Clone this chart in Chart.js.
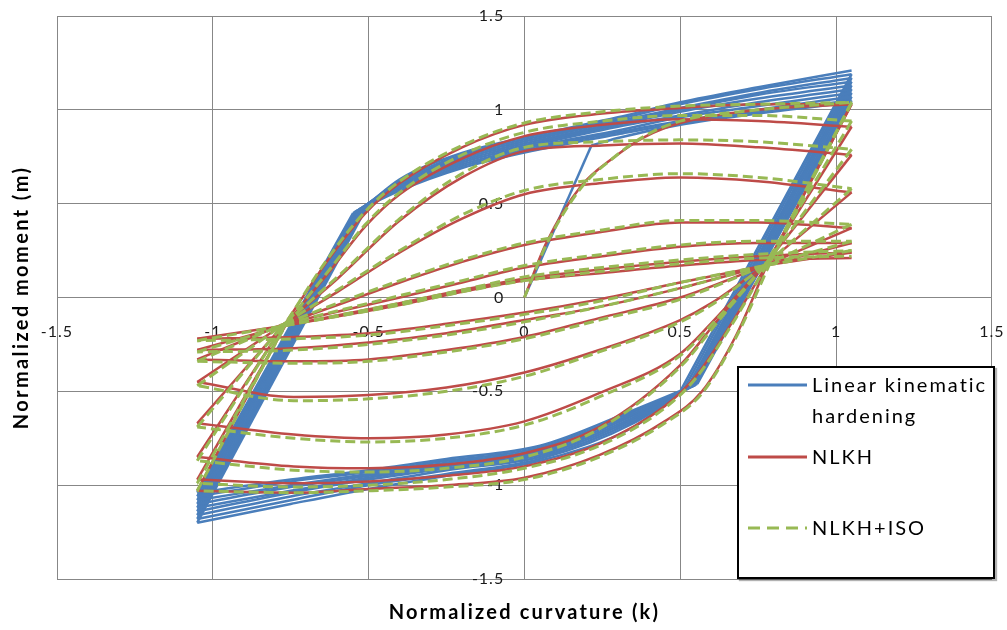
<!DOCTYPE html>
<html>
<head>
<meta charset="utf-8">
<script src="https://cdn.jsdelivr.net/npm/chart.js@4.4.1/dist/chart.umd.min.js"></script>
<style>
  html, body { margin: 0; padding: 0; background: #fff; }
  #wrap { position: relative; width: 1007px; height: 630px; }
  canvas { display: block; }
  #legend {
    position: absolute; left: 737px; top: 366px; width: 254px; height: 209px;
    border: 2px solid #000; background: #fff;
    box-shadow: 2px 2px 1px rgba(0,0,0,0.3);
    font-family: Lato, "Open Sans", "DejaVu Sans", sans-serif; font-size: 20px; color: #000;
  }
  #legend .sw { position: absolute; left: 9px; }
  #legend .lbl { position: absolute; left: 73px; line-height: 31px; white-space: nowrap; letter-spacing: 2px; }
</style>
</head>
<body>
<div id="wrap">
  <canvas id="chart" width="1007" height="630"></canvas>
  <div id="legend">
    <svg class="sw" style="top:14px" width="60" height="6"><line x1="0" y1="3" x2="59" y2="3" stroke="#4a7ebb" stroke-width="3"/></svg>
    <div class="lbl" style="top:1px">Linear kinematic</div>
    <div class="lbl" style="top:32px">hardening</div>
    <svg class="sw" style="top:86px" width="60" height="6"><line x1="0" y1="3" x2="59" y2="3" stroke="#be4b48" stroke-width="3"/></svg>
    <div class="lbl" style="top:73px">NLKH</div>
    <svg class="sw" style="top:157px" width="60" height="6"><line x1="0" y1="3" x2="59" y2="3" stroke="#98b954" stroke-width="3" stroke-dasharray="12 7"/></svg>
    <div class="lbl" style="top:144px">NLKH+ISO</div>
  </div>
</div>
<script>
// Axis ticks (normalized curvature k, normalized moment m)
const curvatureTicks = [-1.5, -1, -0.5, 0, 0.5, 1, 1.5];
const momentTicks = [-1.5, -1, -0.5, 0, 0.5, 1, 1.5];

// ---- Linear kinematic hardening: [k, m] points ----
// elastic start, then the first plastic branch
const blueElastic = [[0,0],[0.215,0.81]];
const blueInitial = [[0.215,0.81],[0.30,0.85],[0.50,0.92],[0.75,0.98],[1.05,1.04]];
// unloading branches (positive tip -> negative tip); first point is the knee
const blueFalling = [
  [[0.555,-0.46],[0.35,-0.60],[0.05,-0.79],[-0.25,-0.86],[-0.50,-0.92],[-0.75,-0.97],[-1.05,-1.04]],
  [[0.55,-0.465],[0.35,-0.61],[0.05,-0.80],[-0.25,-0.87],[-0.50,-0.93],[-0.75,-0.98],[-1.05,-1.06]],
  [[0.545,-0.47],[0.35,-0.62],[0.05,-0.81],[-0.25,-0.88],[-0.50,-0.94],[-0.75,-1.00],[-1.05,-1.08]],
  [[0.54,-0.47],[0.35,-0.63],[0.05,-0.82],[-0.25,-0.89],[-0.50,-0.95],[-0.75,-1.01],[-1.05,-1.10]],
  [[0.53,-0.48],[0.35,-0.64],[0.05,-0.83],[-0.25,-0.90],[-0.50,-0.96],[-0.75,-1.03],[-1.05,-1.12]],
  [[0.525,-0.485],[0.35,-0.65],[0.05,-0.84],[-0.25,-0.91],[-0.50,-0.97],[-0.75,-1.04],[-1.05,-1.14]],
  [[0.52,-0.49],[0.35,-0.66],[0.05,-0.85],[-0.25,-0.92],[-0.50,-0.99],[-0.75,-1.06],[-1.05,-1.16]],
  [[0.51,-0.495],[0.35,-0.67],[0.05,-0.86],[-0.25,-0.94],[-0.50,-1.00],[-0.75,-1.08],[-1.05,-1.18]],
  [[0.50,-0.50],[0.35,-0.69],[0.05,-0.87],[-0.25,-0.95],[-0.50,-1.02],[-0.75,-1.10],[-1.05,-1.20]]
];
// reloading branches (negative tip -> positive tip); first point is the knee
const blueRising = [
  [[-0.55,0.45],[-0.40,0.57],[-0.20,0.69],[0.05,0.79],[0.30,0.87],[0.50,0.93],[0.75,0.99],[1.05,1.05]],
  [[-0.545,0.455],[-0.40,0.58],[-0.20,0.70],[0.05,0.80],[0.30,0.88],[0.50,0.94],[0.75,1.00],[1.05,1.07]],
  [[-0.54,0.46],[-0.40,0.59],[-0.20,0.71],[0.05,0.81],[0.30,0.89],[0.50,0.96],[0.75,1.02],[1.05,1.09]],
  [[-0.535,0.465],[-0.40,0.59],[-0.20,0.72],[0.05,0.82],[0.30,0.91],[0.50,0.97],[0.75,1.04],[1.05,1.11]],
  [[-0.53,0.47],[-0.40,0.60],[-0.20,0.73],[0.05,0.83],[0.30,0.92],[0.50,0.99],[0.75,1.06],[1.05,1.13]],
  [[-0.52,0.48],[-0.40,0.61],[-0.20,0.74],[0.05,0.84],[0.30,0.93],[0.50,1.00],[0.75,1.08],[1.05,1.15]],
  [[-0.515,0.485],[-0.40,0.61],[-0.20,0.75],[0.05,0.85],[0.30,0.94],[0.50,1.01],[0.75,1.09],[1.05,1.17]],
  [[-0.51,0.49],[-0.40,0.62],[-0.20,0.76],[0.05,0.86],[0.30,0.95],[0.50,1.03],[0.75,1.11],[1.05,1.19]],
  [[-0.50,0.50],[-0.40,0.63],[-0.20,0.77],[0.05,0.87],[0.30,0.96],[0.50,1.04],[0.75,1.12],[1.05,1.21]]
];

// ---- NLKH ----
const nlkhInitial = [[0,0],[0.07,0.29],[0.18,0.59],[0.29,0.75],[0.385,0.855],[0.50,0.93],[0.75,1.00],[1.05,1.03]];
// first point of each branch is where the straight reversal line meets the curve
const nlkhFalling = [
  [[0.78,0.18],[0.68,-0.20],[0.57,-0.50],[0.45,-0.66],[0.24,-0.84],[0,-0.96],[-0.25,-1.00],[-0.50,-1.02],[-0.74,-1.04],[-1.05,-1.03]],
  [[0.78,0.18],[0.66,-0.15],[0.55,-0.42],[0.45,-0.58],[0.24,-0.78],[0,-0.90],[-0.25,-0.95],[-0.50,-0.98],[-0.74,-0.99],[-1.05,-0.97]],
  [[0.77,0.17],[0.62,-0.12],[0.50,-0.36],[0.24,-0.69],[0,-0.83],[-0.25,-0.89],[-0.50,-0.91],[-0.74,-0.90],[-1.05,-0.85]],
  [[0.77,0.17],[0.62,-0.10],[0.50,-0.30],[0.24,-0.51],[0,-0.66],[-0.25,-0.73],[-0.50,-0.75],[-0.74,-0.73],[-1.05,-0.67]],
  [[0.77,0.17],[0.60,-0.03],[0.50,-0.12],[0.24,-0.28],[0,-0.40],[-0.25,-0.48],[-0.50,-0.52],[-0.74,-0.53],[-1.05,-0.45]],
  [[0.77,0.17],[0.50,0.00],[0.24,-0.11],[0,-0.21],[-0.25,-0.28],[-0.50,-0.33],[-0.74,-0.34],[-1.05,-0.33]],
  [[0.77,0.17],[0.50,0.05],[0.24,-0.05],[0,-0.12],[-0.25,-0.19],[-0.50,-0.24],[-0.74,-0.27],[-1.05,-0.28]],
  [[0.77,0.17],[0.50,0.08],[0.24,-0.01],[0,-0.08],[-0.25,-0.14],[-0.50,-0.19],[-0.74,-0.21],[-1.05,-0.22]]
];
const nlkhRising = [
  [[-0.76,-0.12],[-0.63,0.20],[-0.51,0.45],[-0.40,0.61],[-0.20,0.80],[0,0.92],[0.25,0.98],[0.50,1.01],[0.75,1.03],[1.05,1.03]],
  [[-0.76,-0.13],[-0.62,0.15],[-0.51,0.38],[-0.40,0.55],[-0.20,0.74],[0,0.86],[0.25,0.92],[0.50,0.95],[0.75,0.94],[1.05,0.91]],
  [[-0.77,-0.14],[-0.60,0.10],[-0.40,0.41],[-0.20,0.64],[0,0.78],[0.25,0.81],[0.50,0.82],[0.75,0.80],[1.05,0.76]],
  [[-0.77,-0.14],[-0.60,0.03],[-0.40,0.24],[-0.20,0.42],[0,0.55],[0.25,0.61],[0.50,0.64],[0.75,0.62],[1.05,0.56]],
  [[-0.77,-0.14],[-0.60,-0.04],[-0.40,0.08],[-0.20,0.19],[0,0.28],[0.25,0.35],[0.50,0.40],[0.75,0.40],[1.05,0.37]],
  [[-0.77,-0.14],[-0.40,0.00],[-0.20,0.08],[0,0.16],[0.25,0.22],[0.50,0.27],[0.75,0.29],[1.05,0.29]],
  [[-0.77,-0.15],[-0.40,-0.03],[-0.20,0.04],[0,0.10],[0.25,0.15],[0.50,0.19],[0.75,0.22],[1.05,0.24]],
  [[-0.77,-0.15],[-0.40,-0.04],[-0.20,0.03],[0,0.09],[0.25,0.13],[0.50,0.17],[0.75,0.20],[1.05,0.21]]
];

// ---- NLKH + isotropic ----
const isoInitial = [[0,0],[0.07,0.28],[0.18,0.58],[0.29,0.75],[0.385,0.86],[0.50,0.94],[0.75,1.00],[1.05,1.04]];
const isoFalling = [
  [[0.79,0.19],[0.68,-0.21],[0.57,-0.51],[0.45,-0.67],[0.24,-0.85],[0,-0.97],[-0.25,-1.01],[-0.50,-1.03],[-0.74,-1.04],[-1.05,-1.03]],
  [[0.78,0.18],[0.66,-0.16],[0.55,-0.43],[0.45,-0.59],[0.24,-0.79],[0,-0.91],[-0.25,-0.97],[-0.50,-1.00],[-0.74,-1.01],[-1.05,-0.99]],
  [[0.77,0.17],[0.62,-0.13],[0.50,-0.37],[0.24,-0.70],[0,-0.85],[-0.25,-0.91],[-0.50,-0.93],[-0.74,-0.92],[-1.05,-0.87]],
  [[0.77,0.17],[0.62,-0.11],[0.50,-0.31],[0.24,-0.53],[0,-0.68],[-0.25,-0.75],[-0.50,-0.77],[-0.74,-0.75],[-1.05,-0.69]],
  [[0.77,0.17],[0.60,-0.04],[0.50,-0.13],[0.24,-0.29],[0,-0.42],[-0.25,-0.50],[-0.50,-0.54],[-0.74,-0.55],[-1.05,-0.47]],
  [[0.77,0.17],[0.50,-0.01],[0.24,-0.12],[0,-0.22],[-0.25,-0.29],[-0.50,-0.34],[-0.74,-0.35],[-1.05,-0.34]],
  [[0.77,0.17],[0.50,0.05],[0.24,-0.05],[0,-0.13],[-0.25,-0.20],[-0.50,-0.25],[-0.74,-0.28],[-1.05,-0.29]],
  [[0.77,0.17],[0.50,0.08],[0.24,-0.02],[0,-0.09],[-0.25,-0.15],[-0.50,-0.20],[-0.74,-0.22],[-1.05,-0.23]]
];
const isoRising = [
  [[-0.76,-0.12],[-0.63,0.21],[-0.51,0.46],[-0.40,0.62],[-0.20,0.81],[0,0.93],[0.25,0.99],[0.50,1.02],[0.75,1.03],[1.05,1.04]],
  [[-0.76,-0.13],[-0.62,0.16],[-0.51,0.39],[-0.40,0.56],[-0.20,0.76],[0,0.88],[0.25,0.94],[0.50,0.97],[0.75,0.97],[1.05,0.94]],
  [[-0.77,-0.14],[-0.60,0.11],[-0.40,0.42],[-0.20,0.66],[0,0.80],[0.25,0.83],[0.50,0.84],[0.75,0.83],[1.05,0.79]],
  [[-0.77,-0.14],[-0.60,0.04],[-0.40,0.25],[-0.20,0.44],[0,0.57],[0.25,0.63],[0.50,0.66],[0.75,0.64],[1.05,0.58]],
  [[-0.77,-0.14],[-0.60,-0.03],[-0.40,0.09],[-0.20,0.20],[0,0.29],[0.25,0.36],[0.50,0.41],[0.75,0.41],[1.05,0.39]],
  [[-0.77,-0.14],[-0.40,0.01],[-0.20,0.09],[0,0.17],[0.25,0.23],[0.50,0.28],[0.75,0.30],[1.05,0.30]],
  [[-0.77,-0.15],[-0.40,-0.03],[-0.20,0.04],[0,0.11],[0.25,0.16],[0.50,0.20],[0.75,0.23],[1.05,0.25]],
  [[-0.77,-0.15],[-0.40,-0.04],[-0.20,0.03],[0,0.09],[0.25,0.14],[0.50,0.18],[0.75,0.21],[1.05,0.22]]
];

// Split the loading history into pieces: every reversal is a straight line from the
// previous tip to the first point of the branch, followed by the smooth branch curve.
function pieces(initialParts, falling, rising) {
  const out = initialParts.slice();
  const last = initialParts[initialParts.length - 1];
  let tip = last[last.length - 1];
  const addBranch = br => {
    out.push([tip, br[0]]);
    out.push(br);
    tip = br[br.length - 1];
  };
  for (let i = 0; i < falling.length; i++) {
    addBranch(falling[i]);
    if (rising[i]) addBranch(rising[i]);
  }
  return out.map(seg => seg.map(([k, m]) => ({ x: k, y: m })));
}

function seriesDatasets(label, segments, style) {
  return segments.map((data, i) => Object.assign({
    label: i === 0 ? label : label + ' ' + i,
    data, showLine: true, pointRadius: 0, cubicInterpolationMode: 'monotone',
    xAxisID: 'x', yAxisID: 'y'
  }, style));
}

const FONT = "Lato, 'Open Sans', 'DejaVu Sans', sans-serif";
const GRID = '#878787';

// Draw a scale's text with a little extra tracking.
function withTracking(scale, method, spacing) {
  const fn = scale[method];
  if (fn.__tracked) return;
  const wrapped = function (...args) {
    const ctx = this.ctx;
    ctx.save();
    ctx.letterSpacing = spacing;
    fn.apply(this, args);
    ctx.restore();
  };
  wrapped.__tracked = true;
  scale[method] = wrapped;
}

const tracking = {
  id: 'tracking',
  beforeDraw(c) {
    withTracking(c.scales.x, 'drawTitle', '2.2px');
    withTracking(c.scales.y, 'drawTitle', '2.4px');
    withTracking(c.scales.kAxis, 'drawLabels', '1px');
    withTracking(c.scales.mAxis, 'drawLabels', '1px');
  }
};

const whiteBg = {
  id: 'whiteBg',
  beforeDraw(c) {
    const ctx = c.ctx;
    ctx.save(); ctx.fillStyle = '#fff'; ctx.fillRect(0, 0, c.width, c.height); ctx.restore();
  }
};

const tickText = v => String(v);

const datasets = [
  ...seriesDatasets('Linear kinematic hardening', pieces([blueElastic, blueInitial], blueFalling, blueRising),
    { borderColor: '#4a7ebb', borderWidth: 2.5, order: 3 }),
  ...seriesDatasets('NLKH', pieces([nlkhInitial], nlkhFalling, nlkhRising),
    { borderColor: '#be4b48', borderWidth: 2.5, order: 2 }),
  ...seriesDatasets('NLKH+ISO', pieces([isoInitial], isoFalling, isoRising),
    { borderColor: '#98b954', borderWidth: 3, borderDash: [10, 5], order: 1 })
];

new Chart(document.getElementById('chart'), {
  type: 'scatter',
  data: { datasets },
  options: {
    responsive: false,
    animation: false,
    layout: { padding: { top: 16, right: 14, left: 0, bottom: 0 } },
    plugins: { legend: { display: false }, tooltip: { enabled: false } },
    scales: {
      x: {
        type: 'linear', position: 'bottom', min: -1.5, max: 1.5,
        afterBuildTicks: s => { s.ticks = curvatureTicks.map(v => ({ value: v })); },
        afterFit: s => { s.height = 51; },
        ticks: { display: false },
        grid: { color: GRID, lineWidth: 1, drawTicks: false },
        border: { display: true, color: GRID },
        title: { display: true, text: 'Normalized curvature (k)', color: '#000',
                 font: { family: FONT, size: 20, weight: 'bold' }, padding: { top: 0, bottom: 5 } }
      },
      y: {
        type: 'linear', position: 'left', min: -1.5, max: 1.5,
        afterBuildTicks: s => { s.ticks = momentTicks.map(v => ({ value: v })); },
        afterFit: s => { s.width = 57; },
        ticks: { display: false },
        grid: { color: GRID, lineWidth: 1, drawTicks: false },
        border: { display: true, color: GRID },
        title: { display: true, text: 'Normalized moment (m)', color: '#000',
                 font: { family: FONT, size: 20, weight: 'bold' }, padding: { top: 10, bottom: 0 } }
      },
      kAxis: {
        type: 'linear', axis: 'x', position: { y: 0 }, min: -1.5, max: 1.5,
        afterBuildTicks: s => { s.ticks = curvatureTicks.map(v => ({ value: v })); },
        grid: { display: true, drawOnChartArea: false, drawTicks: true, tickLength: 21, color: 'rgba(0,0,0,0)' },
        border: { display: false },
        ticks: { color: '#1a1a1a', font: { family: FONT, size: 16 }, padding: 4, maxRotation: 0, autoSkip: false, callback: tickText }
      },
      mAxis: {
        type: 'linear', axis: 'y', position: { x: -0.065 }, min: -1.5, max: 1.5,
        afterBuildTicks: s => { s.ticks = momentTicks.map(v => ({ value: v })); },
        grid: { display: false },
        border: { display: false },
        ticks: { color: '#1a1a1a', font: { family: FONT, size: 16 }, padding: 0, autoSkip: false, callback: tickText }
      }
    }
  },
  plugins: [whiteBg, tracking]
});
</script>
</body>
</html>
